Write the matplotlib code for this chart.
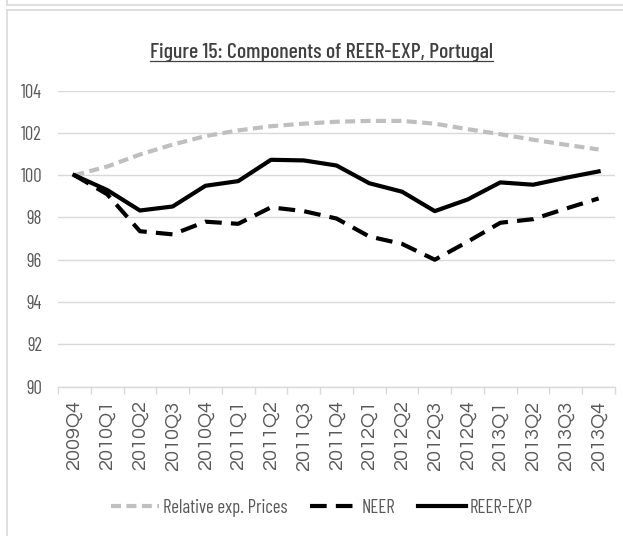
import matplotlib
matplotlib.use("Agg")
import matplotlib.pyplot as plt
from matplotlib.lines import Line2D
from matplotlib import font_manager
from matplotlib.font_manager import FontProperties

categories = ["2009Q4", "2010Q1", "2010Q2", "2010Q3", "2010Q4",
              "2011Q1", "2011Q2", "2011Q3", "2011Q4",
              "2012Q1", "2012Q2", "2012Q3", "2012Q4",
              "2013Q1", "2013Q2", "2013Q3", "2013Q4"]
relative_exp_prices = [100.0, 100.41, 100.98, 101.45, 101.85, 102.12, 102.32, 102.44, 102.53,
                       102.57, 102.57, 102.44, 102.18, 101.94, 101.68, 101.44, 101.22]
neer = [100.0, 99.1, 97.35, 97.2, 97.8, 97.7, 98.48, 98.3, 97.95,
        97.1, 96.75, 96.0, 96.85, 97.75, 97.92, 98.42, 98.9]
reer_exp = [100.0, 99.3, 98.33, 98.52, 99.5, 99.72, 100.73, 100.7, 100.46,
            99.62, 99.22, 98.3, 98.85, 99.66, 99.55, 99.88, 100.18]
yticks = [90, 92, 94, 96, 98, 100, 102, 104]
title = "Figure 15: Components of REER-EXP, Portugal"

files = {f.fname.split("/")[-1].lower(): f.fname for f in font_manager.fontManager.ttflist}

def pick(keys):
    for k in keys:
        for n, p in files.items():
            if n.replace("-", "").replace("_", "").replace(" ", "").startswith(k):
                return p
    return None

cond_path = pick(["barlowcondensedregular", "robotocondensed", "asapcondensedregular", "archivonarrow"])
title_path = pick(["barlowcondensedmedium", "barlowcondensedregular"]) or cond_path
geo_path = pick(["questrial", "urwgothicbook", "didactgothic", "montserratlight",
                 "poppinslight", "montserratregular"])

def fp(path, size, family="DejaVu Sans"):
    if path:
        return FontProperties(fname=path, size=size)
    return FontProperties(family=family, size=size)

W, H = 623, 536
fig = plt.figure(figsize=(W / 100, H / 100), dpi=100)
fig.patch.set_facecolor("white")

frame_col = "#d9d9d9"
fig.add_artist(Line2D([7 / W, 7 / W], [0, 1 - 10 / H], transform=fig.transFigure, color=frame_col, lw=1.2))
fig.add_artist(Line2D([7 / W, 1], [1 - 10 / H, 1 - 10 / H], transform=fig.transFigure, color=frame_col, lw=1.2))
fig.add_artist(Line2D([7 / W, 1], [1 - 5 / H, 1 - 5 / H], transform=fig.transFigure, color=frame_col, lw=1.2))
fig.add_artist(Line2D([7 / W, 7 / W], [1 - 5 / H, 1], transform=fig.transFigure, color=frame_col, lw=1.2))

left, right = 58 / W, 615 / W
bottom, top = 1 - 386.5 / H, 1 - 90.7 / H
ax = fig.add_axes([left, bottom, right - left, top - bottom])

x = list(range(len(categories)))
ax.plot(x, relative_exp_prices, color="#bfbfbf", lw=3.0, dashes=(2.4, 1.3),
        dash_capstyle="butt", label="Relative exp. Prices", zorder=3)
ax.plot(x, neer, color="black", lw=3.0, dashes=(4.0, 2.2), dash_capstyle="butt",
        label="NEER", zorder=4)
ax.plot(x, reer_exp, color="black", lw=3.0, solid_joinstyle="round", label="REER-EXP", zorder=5)

ax.set_xlim(-0.5, len(categories) - 0.5)
ax.set_ylim(90, 104)
ax.set_yticks(yticks)
ax.set_yticklabels([str(v) for v in yticks], color="#595959")
for lab in ax.get_yticklabels():
    lab.set_fontproperties(fp(cond_path, 13.5))
ax.tick_params(axis="y", length=0, pad=11.5)
ax.grid(axis="y", color=frame_col, lw=1.0)
ax.set_axisbelow(True)

ax.set_xticks(x)
ax.set_xticklabels(categories, rotation=90, color="#595959")
xfs = 11.5
for lab in ax.get_xticklabels():
    lab.set_fontproperties(fp(geo_path, xfs))
ax.set_xticks([i - 0.5 for i in range(len(categories) + 1)], minor=True)
ax.tick_params(axis="x", which="major", length=0, pad=10)
ax.tick_params(axis="x", which="minor", length=5, color=frame_col, width=1.0)

for s in ["top", "right", "left"]:
    ax.spines[s].set_visible(False)
ax.spines["bottom"].set_color(frame_col)
ax.spines["bottom"].set_linewidth(1.0)
ax.set_facecolor("none")

leg = fig.legend(loc="center", bbox_to_anchor=(0.517, 1 - 508 / H), ncol=3, frameon=False,
                 handlelength=2.56, handletextpad=0.2, columnspacing=1.2,
                 prop=fp(cond_path, 13.5))
for t in leg.get_texts():
    t.set_color("#595959")

t = fig.text(321 / W, 1 - 53 / H, title, ha="center", va="center",
             fontproperties=fp(title_path, 15), color="#404040")

# fit sizes to the reference's measured widths
fig.canvas.draw()
r = fig.canvas.get_renderer()
w = t.get_window_extent(r).width
t.set_fontsize(15 * 343.0 / w)
lab0 = ax.get_xticklabels()[0]
hgt = lab0.get_window_extent(r).height
newx = xfs * 70.0 / hgt
for lab in ax.get_xticklabels():
    lab.set_fontsize(newx)

fig.canvas.draw()
bb = t.get_window_extent(fig.canvas.get_renderer())
uy = (bb.y0 + 1.5) / H
fig.add_artist(Line2D([bb.x0 / W, bb.x1 / W], [uy, uy], transform=fig.transFigure, color="#404040", lw=0.9))

fig.savefig("out.png", dpi=100, facecolor="white")
